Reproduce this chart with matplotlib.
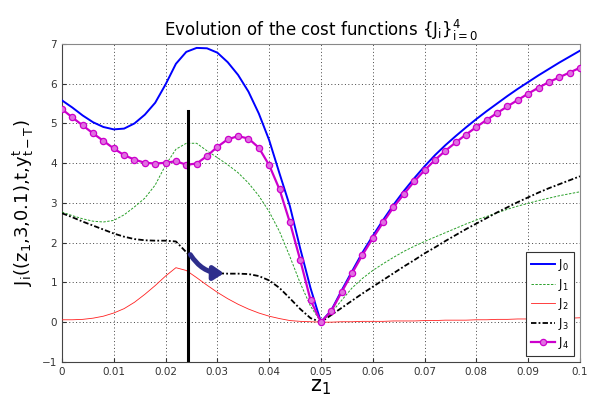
import matplotlib
matplotlib.use('Agg')
import matplotlib.pyplot as plt
from matplotlib.patches import FancyArrowPatch
import numpy as np

# grid of z_1 values (step 0.002)
z1 = [round(0.002 * k, 3) for k in range(51)]

J0 = [5.58, 5.40, 5.20, 5.03, 4.91, 4.85, 4.87, 5.00, 5.22, 5.52,
      5.98, 6.50, 6.80, 6.90, 6.89, 6.78, 6.54, 6.22, 5.80, 5.25,
      4.58, 3.74, 2.92, 1.85, 0.85, 0.00, 0.30, 0.80, 1.28, 1.75,
      2.17, 2.57, 2.95, 3.30, 3.62, 3.92, 4.20, 4.45, 4.68, 4.90,
      5.11, 5.31, 5.50, 5.69, 5.87, 6.04, 6.21, 6.37, 6.53, 6.68, 6.83]

J1 = [2.77, 2.68, 2.60, 2.54, 2.52, 2.56, 2.70, 2.90, 3.12, 3.45,
      3.95, 4.35, 4.50, 4.50, 4.31, 4.14, 3.96, 3.76, 3.50, 3.18,
      2.78, 2.28, 1.65, 0.98, 0.40, 0.00, 0.24, 0.55, 0.86, 1.10,
      1.30, 1.47, 1.63, 1.78, 1.91, 2.03, 2.14, 2.25, 2.36, 2.47,
      2.57, 2.66, 2.75, 2.84, 2.92, 2.99, 3.06, 3.12, 3.18, 3.23, 3.28]

J2 = [0.06, 0.06, 0.07, 0.10, 0.15, 0.23, 0.34, 0.50, 0.70, 0.92,
      1.16, 1.37, 1.30, 1.12, 0.93, 0.75, 0.59, 0.45, 0.33, 0.23,
      0.15, 0.09, 0.04, 0.02, 0.01, 0.00, 0.00, 0.01, 0.01, 0.02,
      0.02, 0.02, 0.03, 0.03, 0.03, 0.04, 0.04, 0.05, 0.05, 0.05,
      0.06, 0.06, 0.07, 0.07, 0.08, 0.08, 0.09, 0.09, 0.10, 0.10, 0.11]

J3 = [2.74, 2.64, 2.53, 2.43, 2.33, 2.23, 2.15, 2.09, 2.06, 2.05,
      2.05, 2.03, 1.76, 1.48, 1.30, 1.23, 1.22, 1.22, 1.21, 1.16,
      1.05, 0.86, 0.60, 0.33, 0.10, 0.00, 0.18, 0.36, 0.54, 0.72,
      0.89, 1.06, 1.23, 1.40, 1.56, 1.73, 1.88, 2.04, 2.19, 2.34,
      2.48, 2.62, 2.76, 2.89, 3.02, 3.14, 3.26, 3.37, 3.47, 3.57, 3.67]

J4 = [5.36, 5.15, 4.95, 4.75, 4.56, 4.37, 4.20, 4.09, 4.01, 3.99,
      4.01, 4.05, 3.96, 3.99, 4.18, 4.41, 4.60, 4.68, 4.62, 4.39,
      3.95, 3.34, 2.51, 1.56, 0.55, 0.00, 0.28, 0.76, 1.23, 1.69,
      2.11, 2.51, 2.89, 3.22, 3.54, 3.82, 4.08, 4.31, 4.52, 4.72,
      4.91, 5.09, 5.26, 5.43, 5.59, 5.75, 5.90, 6.04, 6.16, 6.28, 6.40]

# vertical marker line and arrow (data coords)
vline_z = 0.0243
vline_top = 5.3
arrow_start = (0.0245, 1.76)
arrow_end = (0.0318, 1.23)

plt.rcParams['mathtext.fontset'] = 'dejavusans'
plt.rcParams['mathtext.default'] = 'regular'

fig = plt.figure(figsize=(5.9, 4.03), dpi=100)
ax = fig.add_axes([0.105, 0.102, 0.878, 0.789])

ax.plot(z1, J0, color='#0000ff', linewidth=1.4, label='$J_0$', zorder=3)
ax.plot(z1, J1, color='#2aa02a', linewidth=0.7, linestyle='--', dashes=(2.5, 1.5), label='$J_1$', zorder=3)
ax.plot(z1, J2, color='#ff2020', linewidth=0.6, label='$J_2$', zorder=3)
ax.plot(z1, J3, color='black', linewidth=1.3, linestyle='-.', dashes=(3, 1.2, 1, 1.2), label='$J_3$', zorder=3)
ax.plot(z1, J4, color='#cc00cc', linewidth=1.6, marker='o', markersize=4.5,
        markerfacecolor='#e070e0', markeredgecolor='#cc00cc', markeredgewidth=0.9,
        label='$J_4$', zorder=4)

ax.plot([vline_z, vline_z], [-1, vline_top], color='black', linewidth=2.2, zorder=5)

arr = FancyArrowPatch(arrow_start, arrow_end, connectionstyle='arc3,rad=0.3',
                      arrowstyle='-|>,head_length=6,head_width=4',
                      color='#2e2e8c', linewidth=3.5, zorder=6)
ax.add_patch(arr)

ax.set_xlim(0, 0.1)
ax.set_ylim(-1, 7)
ax.set_xticks(np.arange(0, 0.1001, 0.01))
ax.set_xticklabels(['0', '0.01', '0.02', '0.03', '0.04', '0.05', '0.06', '0.07', '0.08', '0.09', '0.1'])
ax.set_yticks(range(-1, 8))
ax.tick_params(direction='in', labelsize=7.5, colors='#333333', length=3)
ax.grid(True, linestyle=(0, (1, 2.5)), color='#444444', linewidth=0.7)
for s in ['top', 'right']:
    ax.spines[s].set_color('#888888')
for s in ['left', 'bottom']:
    ax.spines[s].set_color('#444444')

ax.set_title(r'Evolution of the cost functions $\{J_i\}_{i=0}^4$', fontsize=12, pad=6)
ax.set_xlabel(r'$z_1$', fontsize=15, labelpad=0)
ax.set_ylabel(r'$J_i((z_1{,}3{,}0.1){,}t{,}y^t_{t-T})$', fontsize=13, labelpad=4)

leg = ax.legend(loc='lower right', fontsize=8.5, handlelength=2.0, handletextpad=0.3,
                borderaxespad=0.5, borderpad=0.4, fancybox=False, framealpha=1,
                edgecolor='#333333', labelspacing=0.3)
leg.get_frame().set_linewidth(0.8)

fig.savefig('out.png', dpi=100)
